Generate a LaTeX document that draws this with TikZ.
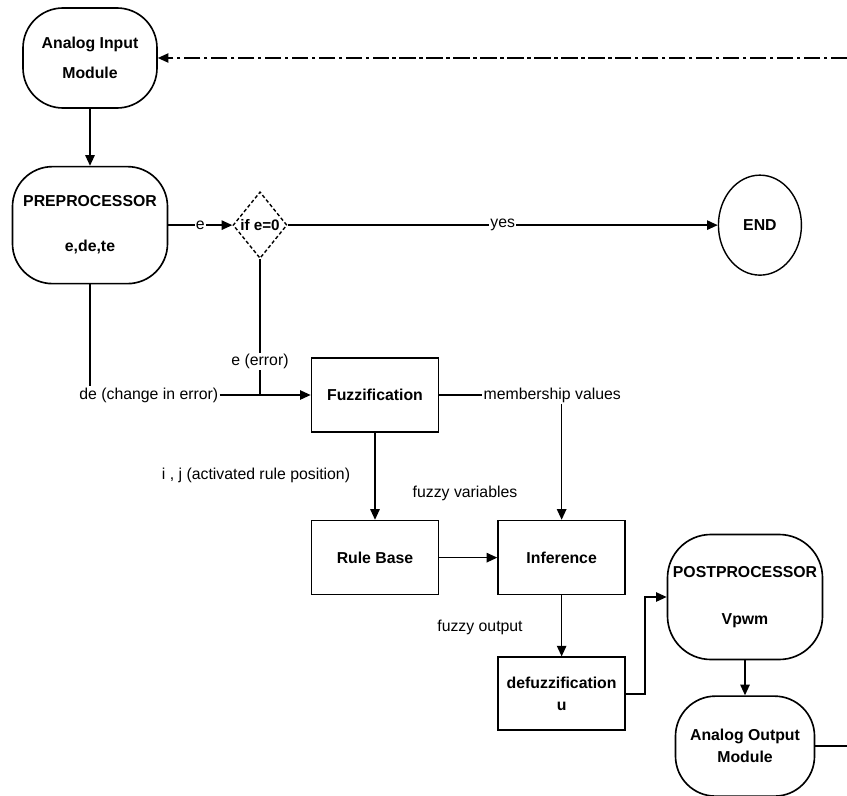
\documentclass[tikz,border=0pt]{standalone}
\usepackage{fontspec}
\setmainfont{Liberation Sans}
\usepackage{tikz}
\usetikzlibrary{shapes.geometric, arrows.meta, positioning, calc}

\begin{document}
\begin{tikzpicture}[
    node distance=2cm,
    block/.style={rectangle, draw, line width=1.4pt, minimum width=3.81cm, minimum height=2.22cm, align=center, font=\fontsize{13.5}{16}\selectfont\bfseries},
    rblock/.style={block, rounded corners=1.2cm},
    decision/.style={diamond, draw, line width=1.2pt, dash pattern=on 3pt off 2pt, minimum width=1.62cm, minimum height=2cm, inner sep=0pt},
    term/.style={ellipse, draw, line width=1.2pt, minimum width=2.49cm, minimum height=3cm, inner sep=0pt, font=\fontsize{13.5}{16}\selectfont\bfseries},
    arrow/.style={-{Triangle[length=0.32cm, width=0.28cm]}, line width=1.4pt},
    line/.style={line width=1.4pt},
    note/.style={font=\fontsize{13.5}{16}\selectfont, inner sep=1pt, align=center}
]

\useasboundingbox (0,0) rectangle (25.41,-23.85);

% main chain
\node[rblock, minimum width=4.02cm, minimum height=3cm] (input) at (2.7,-1.74) {Analog Input\\[0.34cm]Module};
\node[rblock, below=1.71cm of input, minimum width=4.65cm, minimum height=3.51cm] (preproc) {PREPROCESSOR\\[0.79cm]e,de,te};
\node[decision, right=1.92cm of preproc, label={[note, font=\fontsize{13}{16}\selectfont\bfseries]center:if e=0}] (test) {};
\node[term, right=12.9cm of test] (end) {END};

% fuzzy controller
\node[block] (fuzz) at (11.25,-11.85) {Fuzzification};
\node[block, below=2.61cm of fuzz] (rule) {Rule Base};
\node[block, right=1.74cm of rule] (infer) {Inference};
\node[block, below=1.83cm of infer, minimum height=2.19cm] (defuzz) {defuzzification\\[0.1cm]u};

% output side
\node[rblock, rounded corners=1.3cm, minimum width=4.65cm, minimum height=3.75cm] (post) at (22.35,-17.91) {POSTPROCESSOR\\[0.85cm]Vpwm};
\node[rblock, below=1.05cm of post, minimum width=4.17cm, minimum height=3cm] (out) {Analog Output\\[0.1cm]Module};

% labels
\node[note, left=2.73cm of fuzz] (dlabel) {de (change in error)};
\node[note, right=1.29cm of fuzz] (mlabel) {membership values};
\node[note] (ijlabel) at (7.68,-14.25) {i , j (activated rule position)};
\node[note] (fvlabel) at (13.95,-14.79) {fuzzy variables};
\node[note] (folabel) at (14.4,-18.81) {fuzzy output};

\coordinate (rim) at (25.41,0);

\draw[arrow] (input) -- (preproc);
\draw[arrow] (preproc) -- node[note, fill=white] {e} (test);
\draw[arrow] (test) -- node[note, fill=white] {yes} (end);

\draw[line] (test.south) -- node[note, fill=white, pos=0.75] {e (error)} (test.south |- fuzz);
\draw[line] (preproc.south) -- (preproc.south |- dlabel.north);
\draw[arrow] (dlabel) -- (fuzz);

\draw[line] (fuzz) -- (mlabel);
\draw[arrow] (infer.north |- mlabel.south) -- (infer.north);

\draw[arrow] (fuzz) -- (rule);
\draw[arrow] (rule) -- (infer);
\draw[arrow] (infer) -- (defuzz);
\draw[arrow] (defuzz.east) -- ++(0.57,0) |- (post.west);
\draw[arrow] (post) -- (out);

% feedback to the input module
\draw[line] (out.east) -- (out.east -| rim);
\draw[arrow, dash pattern=on 14pt off 3pt on 3pt off 3pt] (input.east -| rim) -- (input.east);

\end{tikzpicture}
\end{document}
